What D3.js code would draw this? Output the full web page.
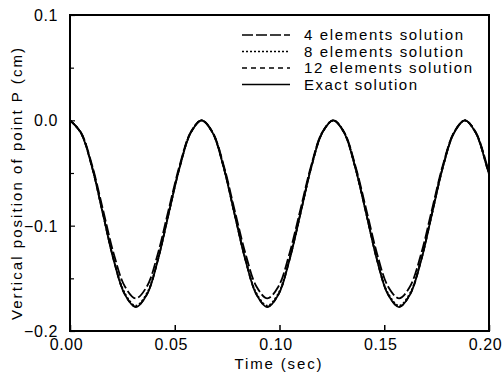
<!DOCTYPE html>
<html>
<head>
<meta charset="utf-8">
<script src="https://cdn.jsdelivr.net/npm/d3@7"></script>
<style>
  html, body { margin: 0; padding: 0; background: #fff; }
  svg { display: block; }
  text { font-family: "Liberation Sans", Arial, sans-serif; fill: #000; }
</style>
</head>
<body>
<div id="chart"></div>
<script>
// valores (tempo em s, deslocamento vertical em cm)
const timeSec = [0, 0.0052, 0.0105, 0.0157, 0.0209, 0.0262, 0.0314, 0.0367, 0.0419, 0.0471, 0.0524, 0.0576,
  0.0628, 0.0681, 0.0733, 0.0785, 0.0838, 0.0890, 0.0942, 0.0995, 0.1047, 0.1100, 0.1152, 0.1204,
  0.1257, 0.1309, 0.1361, 0.1414, 0.1466, 0.1518, 0.1571, 0.1623, 0.1676, 0.1728, 0.1780, 0.1833,
  0.1885, 0.1937, 0.1990, 0.2000];

const exactSol = [0, -0.0119, -0.0444, -0.0887, -0.1331, -0.1655, -0.1774, -0.1655, -0.1331, -0.0887, -0.0444, -0.0119,
  0, -0.0119, -0.0444, -0.0887, -0.1331, -0.1655, -0.1774, -0.1655, -0.1331, -0.0887, -0.0444, -0.0119,
  0, -0.0119, -0.0444, -0.0887, -0.1331, -0.1655, -0.1774, -0.1655, -0.1331, -0.0887, -0.0444, -0.0119,
  0, -0.0119, -0.0444, -0.0510];

const fourElem = [0, -0.0113, -0.0423, -0.0845, -0.1268, -0.1577, -0.1690, -0.1577, -0.1268, -0.0845, -0.0423, -0.0113,
  0, -0.0113, -0.0423, -0.0845, -0.1268, -0.1577, -0.1690, -0.1577, -0.1268, -0.0845, -0.0423, -0.0113,
  0, -0.0113, -0.0423, -0.0845, -0.1268, -0.1577, -0.1690, -0.1577, -0.1268, -0.0845, -0.0423, -0.0113,
  0, -0.0113, -0.0423, -0.0485];

const eightElem = [0, -0.0118, -0.0440, -0.0880, -0.1320, -0.1642, -0.1760, -0.1642, -0.1320, -0.0880, -0.0440, -0.0118,
  0, -0.0118, -0.0440, -0.0880, -0.1320, -0.1642, -0.1760, -0.1642, -0.1320, -0.0880, -0.0440, -0.0118,
  0, -0.0118, -0.0440, -0.0880, -0.1320, -0.1642, -0.1760, -0.1642, -0.1320, -0.0880, -0.0440, -0.0118,
  0, -0.0118, -0.0440, -0.0505];

const twelveElem = [0, -0.0119, -0.0443, -0.0885, -0.1328, -0.1652, -0.1770, -0.1652, -0.1328, -0.0885, -0.0443, -0.0119,
  0, -0.0119, -0.0443, -0.0885, -0.1328, -0.1652, -0.1770, -0.1652, -0.1328, -0.0885, -0.0443, -0.0119,
  0, -0.0119, -0.0443, -0.0885, -0.1328, -0.1652, -0.1770, -0.1652, -0.1328, -0.0885, -0.0443, -0.0119,
  0, -0.0119, -0.0443, -0.0508];

const seriesNames = ["4 elements solution", "8 elements solution", "12 elements solution", "Exact solution"];
const seriesValues = [fourElem, eightElem, twelveElem, exactSol];
const seriesDash = ["11,3", "2,2", "5,4", null];

const xTicks = [0, 0.05, 0.10, 0.15, 0.20];
const yTicks = [-0.2, -0.15, -0.1, -0.05, 0.0, 0.05, 0.1];
const yLabeled = [-0.2, -0.1, 0.0, 0.1];

const W = 503, H = 375;
const mLeft = 70, mRight = 489, mTop = 15, mBottom = 331;

let svg = d3.select("#chart").append("svg")
  .attr("width", W)
  .attr("height", H);

let x = d3.scaleLinear().domain([0, 0.2]).range([mLeft, mRight]);
let y = d3.scaleLinear().domain([-0.2, 0.1]).range([mBottom, mTop]);

// eixo X (ticks para dentro)
let xAxis = d3.axisBottom(x)
  .tickValues(xTicks)
  .tickSizeInner(-6)
  .tickSizeOuter(0)
  .tickPadding(10)
  .tickFormat(d3.format(".2f"));

let gx = svg.append("g")
  .attr("transform", `translate(0,${mBottom})`)
  .call(xAxis);
gx.select(".domain").remove();
gx.selectAll(".tick line").attr("stroke", "#000").attr("stroke-width", 1.5);
gx.selectAll(".tick text")
  .attr("font-size", 16)
  .attr("dx", -4)
  .attr("dy", "0.55em")
  .style("font-family", "'Liberation Sans', Arial, sans-serif")
  .attr("letter-spacing", 0.6);

// eixo Y
let yAxis = d3.axisLeft(y)
  .tickValues(yTicks)
  .tickSizeInner(-5)
  .tickSizeOuter(0)
  .tickPadding(12)
  .tickFormat(d => yLabeled.some(v => Math.abs(v - d) < 1e-9) ? d3.format(".1f")(d) : "");

let gy = svg.append("g")
  .attr("transform", `translate(${mLeft},0)`)
  .call(yAxis);
gy.select(".domain").remove();
gy.selectAll(".tick line")
  .attr("stroke", "#000")
  .attr("stroke-width", 1.2)
  .attr("x2", d => yLabeled.some(v => Math.abs(v - d) < 1e-9) ? 5 : 4);
gy.selectAll(".tick text")
  .attr("font-size", 16)
  .attr("dy", "0.35em")
  .style("font-family", "'Liberation Sans', Arial, sans-serif")
  .attr("letter-spacing", 0.6);

// moldura
svg.append("rect")
  .attr("x", mLeft)
  .attr("y", mTop)
  .attr("width", mRight - mLeft)
  .attr("height", mBottom - mTop)
  .attr("fill", "none")
  .attr("stroke", "#000")
  .attr("stroke-width", 2);

// curvas
let line = d3.line()
  .x((d, i) => x(timeSec[i]))
  .y(d => y(d))
  .curve(d3.curveCatmullRom.alpha(0.5));

let plot = svg.append("g");
seriesValues.forEach((vals, k) => {
  plot.append("path")
    .datum(vals)
    .attr("d", line)
    .attr("fill", "none")
    .attr("stroke", "#000")
    .attr("stroke-width", 1.8)
    .attr("stroke-dasharray", seriesDash[k]);
});

// legenda
let legend = svg.append("g");
seriesNames.forEach((name, k) => {
  let ly = 35 + k * 16.5;
  legend.append("line")
    .attr("x1", 242).attr("x2", 290)
    .attr("y1", ly).attr("y2", ly)
    .attr("stroke", "#000")
    .attr("stroke-width", 1.3)
    .attr("stroke-dasharray", seriesDash[k]);
  legend.append("text")
    .attr("x", 304)
    .attr("y", ly)
    .attr("dy", "0.35em")
    .attr("font-size", 15)
    .attr("textLength", [159, 159, 168, 113][k])
    .attr("lengthAdjust", "spacing")
    .text(name);
});

// títulos dos eixos
svg.append("text")
  .attr("x", 278)
  .attr("y", 369)
  .attr("text-anchor", "middle")
  .attr("font-size", 15)
  .attr("textLength", 87)
  .attr("lengthAdjust", "spacing")
  .text("Time (sec)");

svg.append("text")
  .attr("transform", "translate(22,184) rotate(-90)")
  .attr("text-anchor", "middle")
  .attr("font-size", 15)
  .attr("textLength", 272)
  .attr("lengthAdjust", "spacing")
  .text("Vertical position of point P (cm)");
</script>
</body>
</html>
